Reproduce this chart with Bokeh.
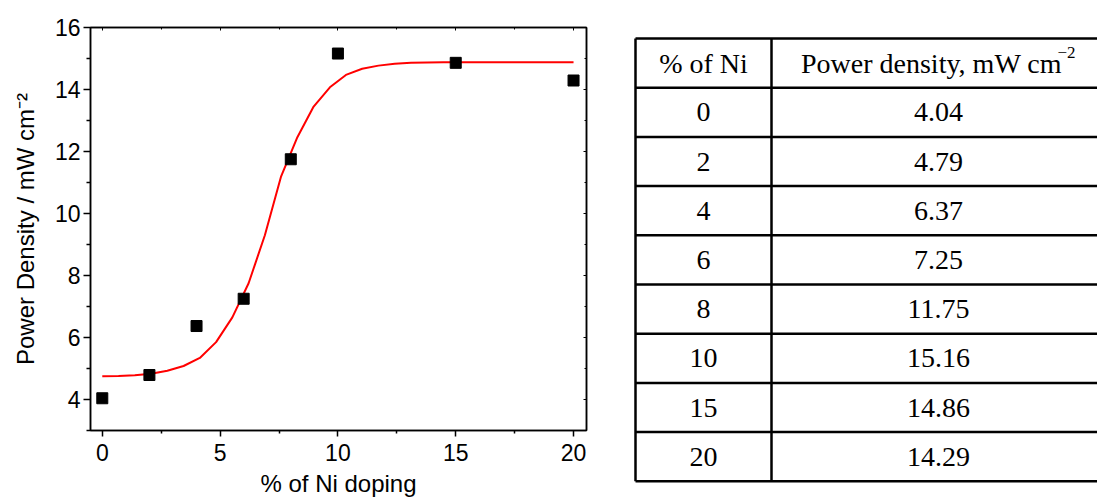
from bokeh.plotting import figure
from bokeh.layouts import row, column
from bokeh.models import Range1d, FixedTicker, LinearAxis, CustomJSTickFormatter
from bokeh.core.properties import value
from bokeh.embed import file_html
from bokeh.resources import INLINE

# ---- data ----
ni_doping = [0, 2, 4, 6, 8, 10, 15, 20]
power_density = [4.04, 4.79, 6.37, 7.25, 11.75, 15.16, 14.86, 14.29]

fit_x = [0, 0.69, 1.38, 2.07, 2.76, 3.45, 4.14, 4.83, 5.52, 6.21, 6.90, 7.59,
         8.28, 8.97, 9.66, 10.34, 11.03, 11.72, 12.41, 13.10, 13.79, 14.48,
         15.17, 15.86, 16.55, 17.24, 17.93, 18.62, 19.31, 20.0]
fit_y = [4.75, 4.76, 4.78, 4.83, 4.93, 5.08, 5.34, 5.85, 6.65, 7.75, 9.30, 11.20,
         12.46, 13.45, 14.07, 14.47, 14.67, 14.77, 14.83, 14.86, 14.87, 14.88,
         14.88, 14.88, 14.88, 14.88, 14.88, 14.88, 14.88, 14.88]

x_ticks = [0, 5, 10, 15, 20]
x_minor = [2.5, 7.5, 12.5, 17.5]
y_ticks = [4, 6, 8, 10, 12, 14, 16]
y_minor = [3, 5, 7, 9, 11, 13, 15]

table_header = ["% of Ni", "Power density, mW cm"]
table_sup = "\u22122"

SANS = "Liberation Sans"
SERIF = "Liberation Serif"

# ---- left chart ----
p = figure(width=600, height=499, title=None, toolbar_location=None,
           output_backend="svg", x_range=Range1d(-0.5, 20.55),
           y_range=Range1d(3, 16))
p.min_border_left = 90
p.min_border_right = 14
p.min_border_top = 27
p.min_border_bottom = 69
p.xgrid.visible = False
p.ygrid.visible = False
p.outline_line_color = "black"
p.outline_line_width = 1.5
p.background_fill_color = "white"
p.border_fill_color = "white"

p.line(fit_x, fit_y, line_color="#ff0000", line_width=2)
p.scatter(ni_doping, power_density, marker="square", size=11,
          fill_color="black", line_color="black")

xa = p.xaxis[0]
xa.ticker = FixedTicker(ticks=x_ticks, minor_ticks=x_minor)
ya = p.yaxis[0]
ya.ticker = FixedTicker(ticks=y_ticks, minor_ticks=y_minor)

for ax in (xa, ya):
    ax.axis_line_width = 1.5
    ax.major_tick_line_width = 1.5
    ax.minor_tick_line_width = 1.5
    ax.major_tick_in = 0
    ax.minor_tick_in = 0
    ax.major_label_text_font = SANS
    ax.major_label_text_font_size = "23px"
    ax.major_label_text_color = "black"
    ax.axis_label_text_font = SANS
    ax.axis_label_text_font_size = "24px"
    ax.axis_label_text_font_style = "normal"
    ax.axis_label_text_color = "black"

xa.major_tick_out = 6
xa.minor_tick_out = 3
xa.major_label_standoff = 7
xa.axis_label = "% of Ni doping"
xa.axis_label_standoff = 6

ya.major_tick_out = 7
ya.minor_tick_out = 4
ya.major_label_standoff = 3
ya.axis_label = "Power Density / mW cm\u207b\u00b2"
ya.axis_label_standoff = 13

blank = CustomJSTickFormatter(code="return ''")
top_ax = LinearAxis(ticker=FixedTicker(ticks=x_ticks, minor_ticks=x_minor),
                    formatter=blank, major_tick_in=3, major_tick_out=0,
                    minor_tick_in=2, minor_tick_out=0, axis_line_width=1.5,
                    major_label_standoff=0)
right_ax = LinearAxis(ticker=FixedTicker(ticks=y_ticks, minor_ticks=y_minor),
                      formatter=blank, major_tick_in=3, major_tick_out=0,
                      minor_tick_in=2, minor_tick_out=0, axis_line_width=1.5,
                      major_label_standoff=0)
p.add_layout(top_ax, "above")
p.add_layout(right_ax, "right")

# ---- right table ----
t = figure(width=497, height=499, title=None, toolbar_location=None,
           output_backend="svg", x_range=Range1d(600, 1097),
           y_range=Range1d(499, 0), x_axis_type=None, y_axis_type=None)
t.min_border = 0
t.outline_line_color = None
t.xgrid.visible = False
t.ygrid.visible = False
t.background_fill_color = "white"
t.border_fill_color = "white"

top_y = 38.0
row_h = 49.2
left_x = 635.0
mid_x = 771.0
right_x = 1105.0
n_rows = len(ni_doping) + 1

h_y = [top_y + i * row_h for i in range(n_rows + 1)]
t.segment(x0=[left_x] * len(h_y), y0=h_y, x1=[right_x] * len(h_y), y1=h_y,
          line_color="black", line_width=2.5)
bottom_y = h_y[-1]
t.segment(x0=[left_x, mid_x], y0=[top_y, top_y], x1=[left_x, mid_x],
          y1=[bottom_y, bottom_y], line_color="black", line_width=2.5)

c1 = (left_x + mid_x) / 2
c2 = (mid_x + right_x) / 2
centers = [top_y + (i + 0.5) * row_h for i in range(n_rows)]

FS = "28px"
# header
t.text(x=[c1], y=[centers[0]], text=[table_header[0]], text_align="center",
       text_baseline="middle", text_font=value(SERIF),
       text_font_size=FS, text_color="black")
t.text(x=[c2 - 7], y=[centers[0]], text=[table_header[1]], text_align="center",
       text_baseline="middle", text_font=value(SERIF),
       text_font_size=FS, text_color="black")
t.text(x=[c2 - 7 + 126], y=[centers[0] - 11], text=[table_sup], text_align="left",
       text_baseline="middle", text_font=value(SERIF),
       text_font_size="17px", text_color="black")

# body
t.text(x=[c1] * len(ni_doping), y=centers[1:], text=[str(v) for v in ni_doping],
       text_align="center", text_baseline="middle", text_font=value(SERIF),
       text_font_size=FS, text_color="black")
t.text(x=[c2] * len(power_density), y=centers[1:],
       text=["%.2f" % v for v in power_density],
       text_align="center", text_baseline="middle", text_font=value(SERIF),
       text_font_size=FS, text_color="black")

layout = row(p, column(t))
open("out.html", "w").write(file_html(layout, INLINE))
